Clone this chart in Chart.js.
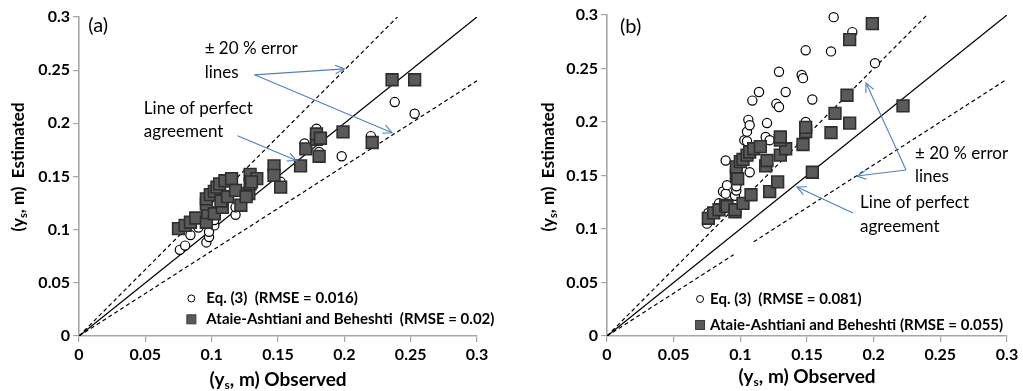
<!DOCTYPE html>
<html><head><meta charset="utf-8">
<script src="https://cdn.jsdelivr.net/npm/chart.js@4/dist/chart.umd.min.js"></script>
<style>
html,body{margin:0;padding:0;background:#fff;overflow:hidden}
#wrap{position:relative;width:1023px;height:391px}
.pane{position:absolute;top:0;height:391px}
</style></head><body>
<div id="wrap">
<div class="pane" style="left:0;width:511px"><canvas id="ca" width="511" height="391"></canvas></div>
<div class="pane" style="left:511px;width:512px"><canvas id="cb" width="512" height="391"></canvas></div>
</div>
<script>
// ---- tick values / labels ----
const tickValues = [0, 0.05, 0.1, 0.15, 0.2, 0.25, 0.3];
const tickLabels = ['0', '0.05', '0.1', '0.15', '0.2', '0.25', '0.3'];

// ---- panel (a): Eq. (3) ----
const obsA_eq3 = [0.076,0.080,0.084,0.090,0.096,0.098,0.098,0.102,0.102,0.109,0.118,0.118,0.129,0.152,0.170,0.179,0.181,0.198,0.220,0.238,0.253];
const estA_eq3 = [0.081,0.085,0.095,0.102,0.088,0.093,0.098,0.104,0.109,0.132,0.114,0.121,0.138,0.145,0.181,0.195,0.173,0.169,0.188,0.220,0.209];
// ---- panel (a): Ataie-Ashtiani and Beheshti ----
const obsA_ab = [0.075,0.080,0.084,0.088,0.096,0.097,0.096,0.096,0.099,0.102,0.104,0.106,0.110,0.115,0.102,0.108,0.107,0.112,0.118,0.122,0.128,0.126,0.129,0.129,0.134,0.130,0.147,0.147,0.152,0.167,0.171,0.179,0.179,0.181,0.182,0.199,0.221,0.236,0.253];
const estA_ab = [0.101,0.104,0.107,0.111,0.107,0.116,0.124,0.129,0.133,0.136,0.140,0.143,0.146,0.148,0.115,0.121,0.127,0.131,0.137,0.123,0.134,0.131,0.143,0.152,0.148,0.145,0.160,0.151,0.140,0.160,0.176,0.185,0.190,0.169,0.186,0.192,0.182,0.241,0.241];

// ---- panel (b): Eq. (3) ----
const obsB_eq3 = [0.075,0.076,0.084,0.084,0.087,0.089,0.090,0.089,0.096,0.097,0.097,0.103,0.105,0.105,0.106,0.107,0.107,0.109,0.114,0.119,0.120,0.122,0.127,0.129,0.129,0.134,0.146,0.147,0.149,0.149,0.154,0.168,0.170,0.184,0.201];
const estB_eq3 = [0.105,0.115,0.122,0.124,0.135,0.133,0.141,0.164,0.131,0.136,0.140,0.183,0.182,0.191,0.202,0.197,0.153,0.220,0.228,0.186,0.199,0.183,0.217,0.214,0.247,0.228,0.244,0.241,0.200,0.267,0.221,0.266,0.298,0.284,0.255];
// ---- panel (b): Ataie-Ashtiani and Beheshti ----
const obsB_ab = [0.076,0.080,0.084,0.089,0.090,0.096,0.096,0.102,0.108,0.122,0.128,0.097,0.098,0.097,0.100,0.102,0.105,0.107,0.110,0.115,0.119,0.120,0.130,0.134,0.130,0.130,0.147,0.149,0.149,0.154,0.168,0.171,0.180,0.182,0.182,0.199,0.222];
const estB_ab = [0.110,0.115,0.118,0.122,0.121,0.116,0.118,0.124,0.132,0.135,0.144,0.150,0.147,0.158,0.163,0.165,0.169,0.172,0.175,0.177,0.159,0.164,0.169,0.175,0.183,0.186,0.179,0.191,0.195,0.153,0.190,0.208,0.225,0.199,0.277,0.292,0.215];

// ---- reference lines (end points) ----
const perfectX = [0, 0.3],  perfectY = [0, 0.3];
const upperX   = [0, 0.24], upperY   = [0, 0.3];
const lowerX   = [0, 0.3],  lowerY   = [0, 0.24];
const lowerBX  = [0, 0.095, 0.1, 0.11, 0.3];
const lowerBY  = [0, 0.076, null, 0.088, 0.24];

const legendA = ['Eq. (3)  (RMSE = 0.016)', 'Ataie-Ashtiani and Beheshti  (RMSE = 0.02)'];
const legendB = ['Eq. (3)  (RMSE = 0.081)', 'Ataie-Ashtiani and Beheshti (RMSE = 0.055)'];

const pts = (xs, ys) => xs.map((x, i) => ({x: x, y: ys[i]}));

const FONT = 'Lato, "Open Sans", sans-serif';
const BLUE = '#4f81bd';
const AXIS = '#a6a6a6';

function arrow(ctx, x1, y1, x2, y2) {
  ctx.save();
  ctx.strokeStyle = BLUE; ctx.lineWidth = 1.1;
  ctx.beginPath(); ctx.moveTo(x1, y1); ctx.lineTo(x2, y2); ctx.stroke();
  const a = Math.atan2(y2 - y1, x2 - x1), L = 10, w = 0.45;
  ctx.beginPath();
  ctx.moveTo(x2 - L * Math.cos(a - w), y2 - L * Math.sin(a - w));
  ctx.lineTo(x2, y2);
  ctx.lineTo(x2 - L * Math.cos(a + w), y2 - L * Math.sin(a + w));
  ctx.stroke();
  ctx.restore();
}

function subText(ctx, parts, cx, cy, size) {
  const f = p => p[1] ? 'bold ' + Math.round(size * 0.62) + 'px ' + FONT : 'bold ' + size + 'px ' + FONT;
  let total = 0;
  parts.forEach(p => { ctx.font = f(p); total += ctx.measureText(p[0]).width; });
  let x = cx - total / 2;
  parts.forEach(p => {
    ctx.font = f(p);
    ctx.fillText(p[0], x, cy + (p[1] ? size * 0.25 : 0));
    x += ctx.measureText(p[0]).width;
  });
}

function makeChart(id, cfg) {
  const annot = {
    id: 'annot',
    afterDraw(chart) {
      const ctx = chart.ctx, xs = chart.scales.x, ys = chart.scales.y;
      const X = v => xs.getPixelForValue(v), Y = v => ys.getPixelForValue(v);
      ctx.save();
      ctx.fillStyle = '#000';
      ctx.textBaseline = 'middle';
      ctx.textAlign = 'left';
      // panel label
      ctx.font = '20px ' + FONT;
      ctx.fillText(cfg.label, X(cfg.labelPos[0]), Y(cfg.labelPos[1]));
      // annotation texts
      ctx.font = '17px ' + FONT;
      cfg.texts.forEach(t => ctx.fillText(t[0], X(t[1]), Y(t[2])));
      // arrows
      cfg.arrows.forEach(a => arrow(ctx, X(a[0]), Y(a[1]), X(a[2]), Y(a[3])));
      // legend
      const lx = X(cfg.legendPos[0]), ly1 = Y(cfg.legendPos[1]), ly2 = Y(cfg.legendPos[2]);
      ctx.beginPath(); ctx.arc(lx, ly1, 3.5, 0, Math.PI * 2);
      ctx.fillStyle = '#fff'; ctx.fill(); ctx.strokeStyle = '#000'; ctx.lineWidth = 1; ctx.stroke();
      ctx.fillStyle = '#595959'; ctx.fillRect(lx - 4.5, ly2 - 4.5, 9, 9);
      ctx.strokeStyle = '#3a3a3a'; ctx.strokeRect(lx - 4.5, ly2 - 4.5, 9, 9);
      ctx.fillStyle = '#000';
      ctx.font = 'bold 15px ' + FONT;
      ctx.fillText(cfg.legend[0], lx + cfg.legendGap, ly1);
      ctx.fillText(cfg.legend[1], lx + cfg.legendGap, ly2);
      // axis titles
      subText(ctx, [['(y', 0], ['s', 1], [', m) Observed', 0]], (chart.chartArea.left + chart.chartArea.right) / 2, cfg.xTitleY, 19);
      ctx.save();
      ctx.translate(cfg.yTitleX, cfg.yTitleCY);
      ctx.rotate(-Math.PI / 2);
      subText(ctx, [['(y', 0], ['s', 1], [', m)  Estimated', 0]], 0, 0, 17);
      ctx.restore();
      ctx.restore();
    }
  };
  const axisCommon = {
    type: 'linear', min: 0, max: 0.3,
    afterBuildTicks: s => { s.ticks = tickValues.map(v => ({value: v})); },
    grid: {drawOnChartArea: false, drawTicks: true, tickLength: 6, color: AXIS, lineWidth: 1.2},
    border: {display: true, color: AXIS, width: 1.6},
    ticks: {
      color: '#000', font: {family: FONT, size: 16, weight: 'bold'},
      callback: (v, i) => tickLabels[i], autoSkip: false, maxRotation: 0, padding: 3
    }
  };
  return new Chart(document.getElementById(id), {
    type: 'scatter',
    data: {
      datasets: [
        {label: cfg.legend[1], data: cfg.ab, pointStyle: 'rect', pointRadius: 8.3, clip: false,
         backgroundColor: '#5a5a5a', borderColor: '#2e2e2e', borderWidth: 1.6},
        {label: cfg.legend[0], data: cfg.eq3, pointStyle: 'circle', pointRadius: 4.6, clip: false,
         backgroundColor: '#fff', borderColor: '#000', borderWidth: 1.2},
        {type: 'line', data: pts(perfectX, perfectY), borderColor: '#000', borderWidth: 1.3, pointRadius: 0, fill: false},
        {type: 'line', data: pts(upperX, upperY), borderColor: '#000', borderWidth: 1.2, borderDash: [4, 3], pointRadius: 0, fill: false},
        {type: 'line', data: cfg.lower, borderColor: '#000', borderWidth: 1.2, borderDash: [4, 3], pointRadius: 0, fill: false, spanGaps: false}
      ]
    },
    options: {
      responsive: false, animation: false, devicePixelRatio: 1,
      layout: {padding: cfg.padding},
      plugins: {legend: {display: false}, tooltip: {enabled: false}},
      scales: {
        x: Object.assign({}, axisCommon, {afterFit: s => { s.height = 55; }}),
        y: Object.assign({}, axisCommon, {afterFit: s => { s.width = cfg.yWidth; }})
      }
    },
    plugins: [annot]
  });
}

makeChart('ca', {
  eq3: pts(obsA_eq3, estA_eq3), ab: pts(obsA_ab, estA_ab),
  lower: pts(lowerX, lowerY),
  padding: {left: 0, right: 34, top: 17, bottom: 0}, yWidth: 79,
  label: '(a)', labelPos: [0.007, 0.2916],
  texts: [['\u00b1 20 % error', 0.0947, 0.270], ['lines', 0.0947, 0.2475],
          ['Line of perfect', 0.0489, 0.2137], ['agreement', 0.0489, 0.1922]],
  arrows: [[0.1323, 0.2456, 0.200, 0.2512], [0.1323, 0.2456, 0.236, 0.1912],
           [0.1195, 0.1884, 0.1639, 0.165]],
  legend: legendA, legendPos: [0.0847, 0.0353, 0.0157], legendGap: 15,
  xTitleY: 380, yTitleX: 19, yTitleCY: 167
});

makeChart('cb', {
  eq3: pts(obsB_eq3, estB_eq3), ab: pts(obsB_ab, estB_ab),
  lower: pts(lowerBX, lowerBY),
  padding: {left: 0, right: 16, top: 15, bottom: 0}, yWidth: 96,
  label: '(b)', labelPos: [0.00975, 0.2888],
  texts: [['\u00b1 20 % error', 0.231, 0.171], ['lines', 0.231, 0.1495],
          ['Line of perfect', 0.1898, 0.1243], ['agreement', 0.1898, 0.1019]],
  arrows: [[0.2243, 0.1551, 0.1943, 0.2364], [0.2243, 0.1551, 0.1875, 0.1495],
           [0.1845, 0.115, 0.1425, 0.1393]],
  legend: legendB, legendPos: [0.0698, 0.0346, 0.0103], legendGap: 10,
  xTitleY: 377, yTitleX: 38, yTitleCY: 167
});
</script>
</body></html>
